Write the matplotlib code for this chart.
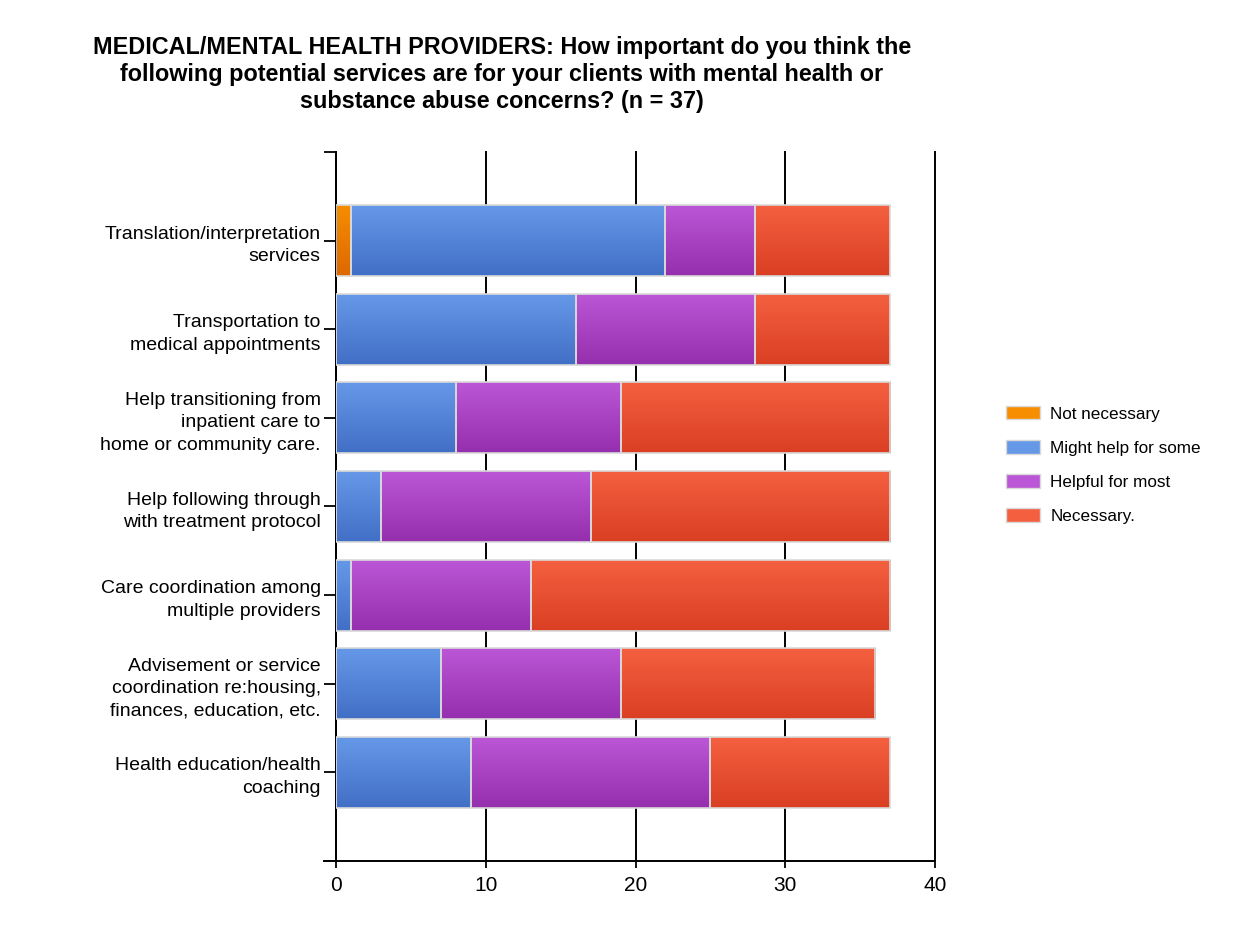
import numpy as np
import matplotlib
matplotlib.use("Agg")
import matplotlib.pyplot as plt
from matplotlib.colors import LinearSegmentedColormap
from matplotlib.patches import Patch

plt.rcParams["font.family"] = ["Liberation Sans", "DejaVu Sans"]

# ----------------------------------------------------------------------
# Data
# ----------------------------------------------------------------------
categories = [
    "Translation/interpretation\nservices",
    "Transportation to\nmedical appointments",
    "Help transitioning from\ninpatient care to\nhome or community care.",
    "Help following through\nwith treatment protocol",
    "Care coordination among\nmultiple providers",
    "Advisement or service\ncoordination re:housing,\nfinances, education, etc.",
    "Health education/health\ncoaching",
]
series_names = ["Not necessary", "Might help for some", "Helpful for most", "Necessary."]
not_necessary = [1, 0, 0, 0, 0, 0, 0]
might_help = [21, 16, 8, 3, 1, 7, 9]
helpful_most = [6, 12, 11, 14, 12, 12, 16]
necessary = [9, 9, 18, 20, 24, 17, 12]

# (top colour, bottom colour) of the vertical gradient in each bar
gradients = [
    ("#f78d00", "#dd6800"),
    ("#6698e8", "#416fc6"),
    ("#bb56d6", "#962fae"),
    ("#f4603f", "#da3f24"),
]

fig = plt.figure(figsize=(12.59, 9.38), dpi=100)
ax = fig.add_axes([336 / 1259, 1 - 861 / 938, 599 / 1259, 709 / 938])

pos = np.arange(1, len(categories) + 1)
left = np.zeros(len(categories))
for vals, name, (c_top, c_bot) in zip(
        [not_necessary, might_help, helpful_most, necessary], series_names, gradients):
    vals = np.array(vals, dtype=float)
    bars = ax.barh(pos, vals, left=left, height=0.8, color="none",
                   edgecolor="#d9d9d9", linewidth=1.2, zorder=3)
    cmap = LinearSegmentedColormap.from_list(name, [c_top, c_bot])
    grad = np.linspace(0, 1, 64).reshape(-1, 1)
    for b in bars:
        if b.get_width() <= 0:
            continue
        x0, y0 = b.get_x(), b.get_y()
        im = ax.imshow(grad, cmap=cmap, aspect="auto", zorder=2,
                       extent=[x0, x0 + b.get_width(), y0 + b.get_height(), y0],
                       interpolation="bilinear")
        im.set_clip_path(b)
    left = left + vals

ax.set_xlim(0, 40)
ax.set_ylim(8, 0)
ax.set_aspect("auto")

ax.set_xticks([0, 10, 20, 30, 40])
ax.set_yticks(np.arange(0, 9))
ax.set_yticklabels([""] + categories + [""], fontsize=14, linespacing=1.42)
ax.tick_params(axis="y", length=9, width=1.3, color="black", pad=2)
ax.tick_params(axis="x", length=5, width=1.3, color="black", labelsize=15, pad=6)

ax.grid(axis="x", color="black", linewidth=1.4, zorder=1)
for gl in ax.get_xgridlines():
    gl.set_clip_on(False)
ax.set_axisbelow(True)
for s in ["top", "right"]:
    ax.spines[s].set_visible(False)
ax.spines["left"].set_linewidth(1.4)
ax.spines["bottom"].set_linewidth(1.4)
ax.spines["bottom"].set_bounds(-0.8, 40)

handles = [Patch(facecolor=c_top, edgecolor="#d9d9d9", label=n)
           for n, (c_top, _) in zip(series_names, gradients)]
fig.legend(handles=handles, loc="upper left", bbox_to_anchor=(999 / 1259, 1 - 399 / 938),
           frameon=False, fontsize=12.3, handlelength=2.0, handleheight=0.85,
           labelspacing=1.08, handletextpad=0.6, borderaxespad=0)

fig.text(502 / 1259, 1 - 36 / 938,
         "MEDICAL/MENTAL HEALTH PROVIDERS: How important do you think the\n"
         "following potential services are for your clients with mental health or\n"
         "substance abuse concerns? (n = 37)",
         ha="center", va="top", fontsize=16.8, weight="bold", linespacing=1.22)

fig.savefig("out.png", dpi=100)
